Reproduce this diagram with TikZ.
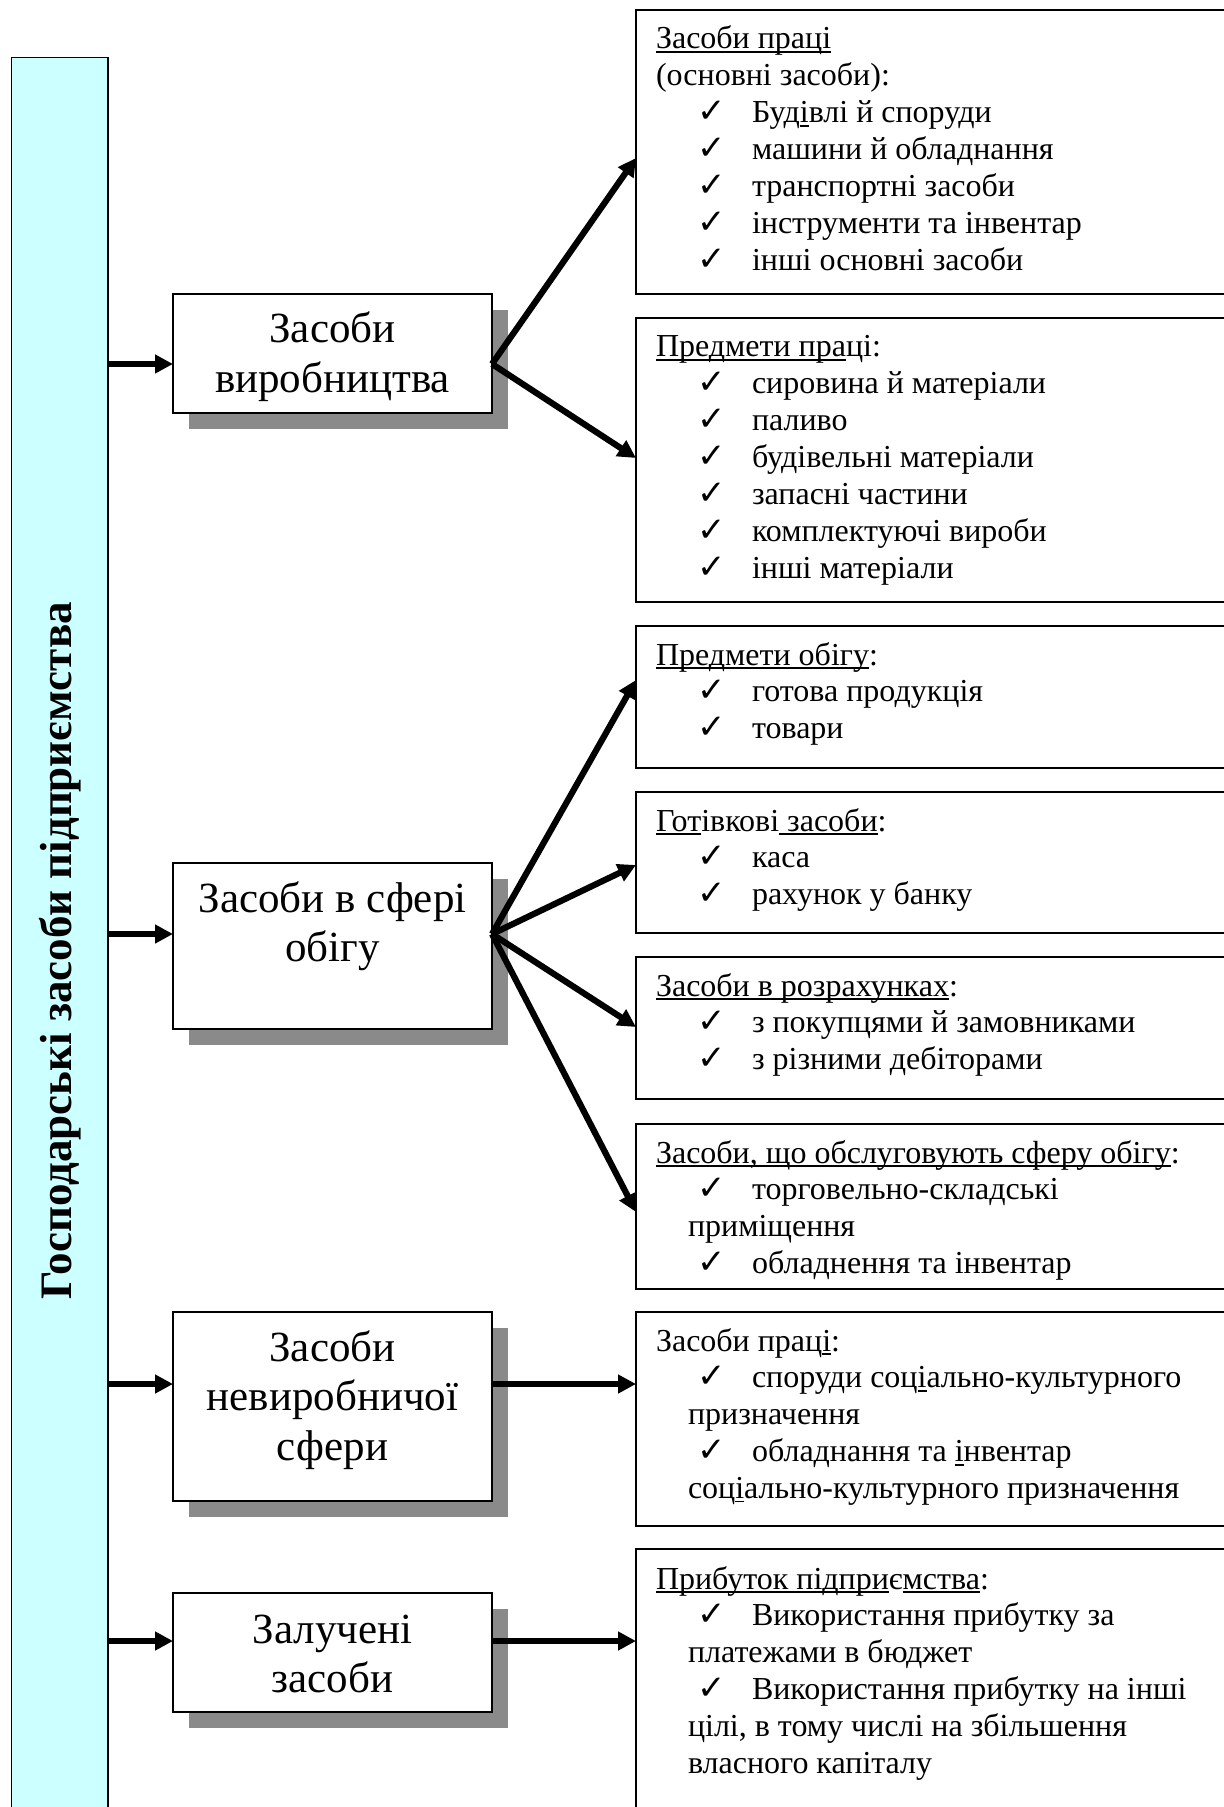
\documentclass[tikz,border=0pt]{standalone}
\usepackage{fontspec}
\setmainfont{Liberation Serif}
\newfontfamily\chkfont{DejaVu Sans}
\usetikzlibrary{arrows.meta,fit}

% underline at a fixed depth, crossing descenders
\newcommand\uln[1]{\setbox0=\hbox{#1}\rlap{\rule[-1.9pt]{\wd0}{0.75pt}}\box0}
% check-mark bullet and continuation indent of the lists
\newcommand\chk{\hspace*{20.5pt}\makebox[27.5pt][l]{\chkfont\fontsize{17}{17}\selectfont ✓}}
\newcommand\cont{\hspace*{16pt}}
% stacks of lines with a fixed baseline pitch
\newcommand\rowtx[1]{\hbox{#1}}
\newcommand\crow[1]{\hbox to 150pt{\hss#1\hss}}
\newcommand\listlines[1]{\vtop{\fontsize{16}{18.45}\selectfont\lineskiplimit=-100pt\lineskip=0pt #1}}
\newcommand\boxlines[1]{\vtop{\fontsize{21.5}{24.75}\selectfont\lineskiplimit=-100pt\lineskip=0pt #1}}

\definecolor{barcyan}{HTML}{CCFFFF}
\definecolor{shadowgray}{HTML}{8A8A8A}

\tikzset{
  frame/.style={draw=black, line width=0.8pt, inner sep=0pt, outer sep=0pt},
  lbox/.style={frame, fill=white},
  rbox/.style={frame, fill=white},
  bar/.style={frame, fill=barcyan},
  txt/.style={inner sep=0pt, outer sep=0pt},
  arr/.style={line width=3.1pt, -{Triangle[length=9pt,width=9pt]}},
  shadowfill/.style={fill=shadowgray}
}

\begin{document}
\begin{tikzpicture}[x=0.5pt, y=-0.5pt]
\useasboundingbox (0,0) rectangle (1224,1807);
\clip (0,0) rectangle (1224,1807);

% vertical title bar
\node[bar, fit={(11.5,57.6) (108,1830)}] (bar) {};
\node[txt, rotate=90, anchor=base, font=\bfseries\fontsize{22.5}{27}\selectfont] (title) at (71.7,951) {Господарські засоби підприємства};

% shadows of the middle boxes
\fill[shadowfill] (189,310) rectangle (508,429);
\fill[shadowfill] (189,879) rectangle (508,1045);
\fill[shadowfill] (189,1328) rectangle (508,1517);
\fill[shadowfill] (189,1609) rectangle (508,1728);

% middle boxes
\node[lbox, fit={(173,294) (492,413)}] (l1) {};
\node[lbox, fit={(173,863) (492,1029)}] (l2) {};
\node[lbox, fit={(173,1312) (492,1501)}] (l3) {};
\node[lbox, fit={(173,1593) (492,1712)}] (l4) {};

\node[txt, anchor=base] (l1t) at (332.5,343) {\boxlines{\crow{Засоби}\crow{виробництва}}};
\node[txt, anchor=base] (l2t) at (332.5,912) {\boxlines{\crow{Засоби в сфері}\crow{обігу}}};
\node[txt, anchor=base] (l3t) at (332.5,1361) {\boxlines{\crow{Засоби}\crow{невиробничої}\crow{сфери}}};
\node[txt, anchor=base] (l4t) at (332.5,1643) {\boxlines{\crow{Залучені}\crow{засоби}}};

% right-hand boxes
\node[rbox, fit={(636,10) (1240,294)}] (r1) {};
\node[rbox, fit={(636,318) (1240,602)}] (r2) {};
\node[rbox, fit={(636,626) (1240,768)}] (r3) {};
\node[rbox, fit={(636,792) (1240,933)}] (r4) {};
\node[rbox, fit={(636,957) (1240,1099)}] (r5) {};
\node[rbox, fit={(636,1124) (1240,1289)}] (r6) {};
\node[rbox, fit={(636,1312) (1240,1526)}] (r7) {};
\node[rbox, fit={(636,1549) (1240,1830)}] (r8) {};

\node[txt, anchor=base west] (r1t) at (656,49) {\listlines{%
  \rowtx{\uln{Засоби праці}}
  \rowtx{(основні засоби):}
  \rowtx{\chk Буд\uln{і}влі й споруди}
  \rowtx{\chk машини й обладнання}
  \rowtx{\chk транспортні засоби}
  \rowtx{\chk інструменти та інвентар}
  \rowtx{\chk інші основні засоби}}};

\node[txt, anchor=base west] (r2t) at (656,357) {\listlines{%
  \rowtx{\uln{Предмети пра}ці:}
  \rowtx{\chk сировина й матеріали}
  \rowtx{\chk паливо}
  \rowtx{\chk будівельні матеріали}
  \rowtx{\chk запасні частини}
  \rowtx{\chk комплектуючі вироби}
  \rowtx{\chk інші матеріали}}};

\node[txt, anchor=base west] (r3t) at (656,665) {\listlines{%
  \rowtx{\uln{Предмети обігу}:}
  \rowtx{\chk готова продукція}
  \rowtx{\chk товари}}};

\node[txt, anchor=base west] (r4t) at (656,831) {\listlines{%
  \rowtx{\uln{Гот}івкові\uln{ засоби}:}
  \rowtx{\chk каса}
  \rowtx{\chk рахунок у банку}}};

\node[txt, anchor=base west] (r5t) at (656,996) {\listlines{%
  \rowtx{\uln{Засоби в розрахунках}:}
  \rowtx{\chk з покупцями й замовниками}
  \rowtx{\chk з різними дебіторами}}};

\node[txt, anchor=base west] (r6t) at (656,1163) {\listlines{%
  \rowtx{\uln{Засоби, що обслуговують сферу обігу}:}
  \rowtx{\chk торговельно-складські}
  \rowtx{\cont приміщення}
  \rowtx{\chk обладнення та інвентар}}};

\node[txt, anchor=base west] (r7t) at (656,1351) {\listlines{%
  \rowtx{Засоби прац\uln{і}:}
  \rowtx{\chk споруди соц\uln{і}ально-культурного}
  \rowtx{\cont призначення}
  \rowtx{\chk обладнання та \uln{і}нвентар}
  \rowtx{\cont соц\uln{і}ально-культурного призначення}}};

\node[txt, anchor=base west] (r8t) at (656,1589) {\listlines{%
  \rowtx{\uln{Прибуток підпри}є\uln{мства}:}
  \rowtx{\chk Використання прибутку за}
  \rowtx{\cont платежами в бюджет}
  \rowtx{\chk Використання прибутку на інші}
  \rowtx{\cont цілі, в тому числі на збільшення}
  \rowtx{\cont власного капіталу}}};

% connector levels
\coordinate (y1) at (0,364);
\coordinate (y2) at (0,934);
\coordinate (y3) at (0,1384);
\coordinate (y4) at (0,1641);
\coordinate (e1) at (0,158);
\coordinate (e2) at (0,458);
\coordinate (e3) at (0,680);
\coordinate (e4) at (0,865);
\coordinate (e5) at (0,1027);
\coordinate (e6) at (0,1212);

% from the title bar to the middle boxes
\draw[arr] (bar.east |- y1) -- (l1.west |- y1);
\draw[arr] (bar.east |- y2) -- (l2.west |- y2);
\draw[arr] (bar.east |- y3) -- (l3.west |- y3);
\draw[arr] (bar.east |- y4) -- (l4.west |- y4);

% from the middle boxes to the lists
\draw[arr] (l1.east |- y1) -- (r1.west |- e1);
\draw[arr] (l1.east |- y1) -- (r2.west |- e2);
\draw[arr] (l2.east |- y2) -- (r3.west |- e3);
\draw[arr] (l2.east |- y2) -- (r4.west |- e4);
\draw[arr] (l2.east |- y2) -- (r5.west |- e5);
\draw[arr] (l2.east |- y2) -- (r6.west |- e6);
\draw[arr] (l3.east |- y3) -- (r7.west |- y3);
\draw[arr] (l4.east |- y4) -- (r8.west |- y4);
\end{tikzpicture}
\end{document}
